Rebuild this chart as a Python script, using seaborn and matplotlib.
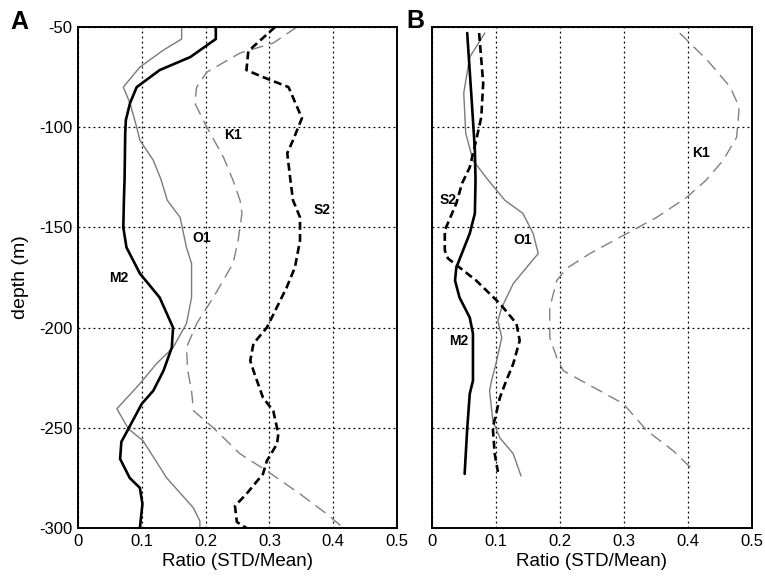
import matplotlib
matplotlib.use("Agg")
import matplotlib.pyplot as plt
import seaborn as sns
import pandas as pd

# ---- Panel A: STD/Mean ratio profiles -------------------------------------
a_m2_depth = [-50, -56, -65, -71.5, -80, -88, -96.5, -103, -126, -136, -150, -160, -173,
              -185, -200, -210, -221.5, -231.5, -238, -250.5, -257, -265.5, -275, -280,
              -288, -300]
a_m2_ratio = [0.216, 0.216, 0.176, 0.128, 0.092, 0.0815, 0.075, 0.074, 0.073, 0.072, 0.071,
              0.076, 0.097, 0.128, 0.149, 0.147, 0.134, 0.118, 0.100, 0.079, 0.068, 0.066,
              0.081, 0.097, 0.101, 0.097]

a_o1_depth = [-50, -56, -61.5, -70, -80, -88, -100, -106.5, -116.5, -126, -136.5, -145, -160,
              -168, -185, -198, -210, -218, -228, -240.5, -250.5, -256.5, -275, -290, -296.5,
              -300]
a_o1_ratio = [0.1625, 0.1625, 0.134, 0.097, 0.071, 0.0815, 0.092, 0.097, 0.118, 0.130, 0.140,
              0.160, 0.170, 0.178, 0.178, 0.170, 0.149, 0.123, 0.097, 0.061, 0.079, 0.102,
              0.139, 0.181, 0.191, 0.191]

a_k1_depth = [-50, -58, -63, -72.5, -80, -88, -100, -115, -126.5, -136.5, -143, -156.5, -168,
              -185, -198, -210, -221.5, -231.5, -241.5, -250, -263, -271.5, -283, -293, -300]
a_k1_ratio = [0.343, 0.306, 0.254, 0.202, 0.186, 0.183, 0.202, 0.228, 0.243, 0.254, 0.257,
              0.251, 0.243, 0.212, 0.186, 0.170, 0.172, 0.178, 0.181, 0.212, 0.254, 0.296,
              0.348, 0.390, 0.416]

a_s2_depth = [-50, -62, -71.5, -75, -80, -95.5, -106.5, -113, -126.5, -136.5, -145, -156.5,
              -170, -180, -200, -208, -216.5, -221.5, -235, -241.5, -253, -258, -266.5, -273,
              -283, -289, -297, -300]
a_s2_ratio = [0.309, 0.267, 0.264, 0.290, 0.330, 0.351, 0.337, 0.328, 0.333, 0.337, 0.348,
              0.348, 0.340, 0.327, 0.296, 0.275, 0.270, 0.275, 0.290, 0.306, 0.314, 0.312,
              0.296, 0.290, 0.264, 0.246, 0.249, 0.264]

# ---- Panel B ----------------------------------------------------------------
b_m2_depth = [-53, -86.5, -111.5, -126.5, -143, -153, -170, -176.5, -185, -195, -203, -226.5,
              -233, -250.5, -273]
b_m2_ratio = [0.055, 0.062, 0.067, 0.068, 0.067, 0.059, 0.038, 0.036, 0.043, 0.059, 0.064,
              0.064, 0.059, 0.055, 0.051]

b_o1_depth = [-53, -65, -83, -103, -116.5, -126.5, -136.5, -143, -153, -163, -168, -178, -190,
              -196.5, -205, -218, -226.5, -231.5, -246.5, -255, -263, -274]
b_o1_ratio = [0.0825, 0.059, 0.0496, 0.0527, 0.064, 0.088, 0.114, 0.142, 0.158, 0.166, 0.153,
              0.127, 0.109, 0.103, 0.109, 0.100, 0.093, 0.090, 0.095, 0.106, 0.127, 0.139]

b_s2_depth = [-53, -78, -95, -106.5, -120, -128, -138, -151.5, -161.5, -165.5, -176.5, -188,
              -198, -206.5, -218, -226.5, -235, -250, -263, -272]
b_s2_ratio = [0.0736, 0.080, 0.077, 0.069, 0.059, 0.047, 0.038, 0.020, 0.020, 0.025, 0.069,
              0.106, 0.132, 0.137, 0.127, 0.116, 0.106, 0.095, 0.098, 0.103]

b_k1_depth = [-53, -66.5, -80, -90, -105, -116.5, -126.5, -135, -145, -154, -163, -170.5,
              -176.5, -190, -205, -215, -221.5, -238, -251.5, -261.5, -272]
b_k1_ratio = [0.387, 0.430, 0.466, 0.480, 0.476, 0.455, 0.428, 0.398, 0.351, 0.299, 0.247,
              0.210, 0.195, 0.184, 0.184, 0.195, 0.205, 0.299, 0.336, 0.377, 0.411]

x_ticks = [0, 0.1, 0.2, 0.3, 0.4, 0.5]
x_tick_labels = ["0", "0.1", "0.2", "0.3", "0.4", "0.5"]
y_ticks = [-300, -250, -200, -150, -100, -50]
y_tick_labels = ["-300", "-250", "-200", "-150", "-100", "-50"]

# label anchor (ratio, depth) for each curve
labels_a = {"K1": (0.243, -104), "S2": (0.382, -141.5), "O1": (0.194, -155.5), "M2": (0.063, -175)}
labels_b = {"K1": (0.421, -113), "S2": (0.025, -136.5), "O1": (0.142, -156.5), "M2": (0.041, -206.5)}

sns.set_theme(style="white")
plt.rcParams["font.family"] = ["Liberation Sans", "DejaVu Sans"]
plt.rcParams["text.color"] = "black"
plt.rcParams["axes.labelcolor"] = "black"
plt.rcParams["xtick.color"] = "black"
plt.rcParams["ytick.color"] = "black"
plt.rcParams["lines.solid_joinstyle"] = "round"
plt.rcParams["lines.dash_joinstyle"] = "round"

styles = {
    "M2": dict(color="black", linewidth=1.9, linestyle="-"),
    "O1": dict(color="#7a7a7a", linewidth=1.0, linestyle="-"),
    "K1": dict(color="#808080", linewidth=1.0, linestyle=(0, (9, 5))),
    "S2": dict(color="black", linewidth=1.9, linestyle=(0, (3, 1.6))),
}

def frame(d, r, name):
    return pd.DataFrame({"depth": d, "ratio": r, "curve": name})

panel_a = {
    "M2": frame(a_m2_depth, a_m2_ratio, "M2"),
    "O1": frame(a_o1_depth, a_o1_ratio, "O1"),
    "K1": frame(a_k1_depth, a_k1_ratio, "K1"),
    "S2": frame(a_s2_depth, a_s2_ratio, "S2"),
}
panel_b = {
    "M2": frame(b_m2_depth, b_m2_ratio, "M2"),
    "O1": frame(b_o1_depth, b_o1_ratio, "O1"),
    "K1": frame(b_k1_depth, b_k1_ratio, "K1"),
    "S2": frame(b_s2_depth, b_s2_ratio, "S2"),
}

fig = plt.figure(figsize=(7.65, 5.78), dpi=100)
ax_a = fig.add_axes([78 / 765, 50 / 578, 319 / 765, 501 / 578])
ax_b = fig.add_axes([432 / 765, 50 / 578, 320 / 765, 501 / 578])

for ax, data, labels in [(ax_a, panel_a, labels_a), (ax_b, panel_b, labels_b)]:
    for name in ["K1", "O1", "S2", "M2"]:
        df = data[name]
        sns.lineplot(data=df, x="ratio", y="depth", sort=False, estimator=None,
                     ax=ax, legend=False, **styles[name])
    for name, (lx, ly) in labels.items():
        ax.text(lx, ly, name, fontsize=10, fontweight="bold", ha="center", va="center",
                color="black")

    ax.set_xlim(0, 0.5)
    ax.set_ylim(-300, -50)
    ax.set_xticks(x_ticks)
    ax.set_xticklabels(x_tick_labels)
    ax.set_yticks(y_ticks)
    ax.grid(True, color="black", linestyle=(0, (1.5, 2.5)), linewidth=0.9)
    ax.set_axisbelow(True)
    for sp in ax.spines.values():
        sp.set_color("black")
        sp.set_linewidth(1.4)
    ax.tick_params(axis="both", length=0, labelsize=12, colors="black")
    ax.tick_params(axis="x", pad=4)
    ax.tick_params(axis="y", pad=4)
    ax.set_xlabel("Ratio (STD/Mean)", fontsize=13.5, labelpad=3)
    ax.set_ylabel("")

ax_a.set_yticklabels(y_tick_labels)
ax_a.set_ylabel("depth (m)", fontsize=14)
ax_a.yaxis.set_label_coords(-0.155, 0.5)
ax_b.set_yticklabels([])

fig.text(10 / 765, 1 - 22 / 578, "A", fontsize=18, fontweight="bold", ha="left", va="center")
fig.text(406 / 765, 1 - 21 / 578, "B", fontsize=18, fontweight="bold", ha="left", va="center")

fig.savefig("out.png", dpi=100, facecolor="white")
